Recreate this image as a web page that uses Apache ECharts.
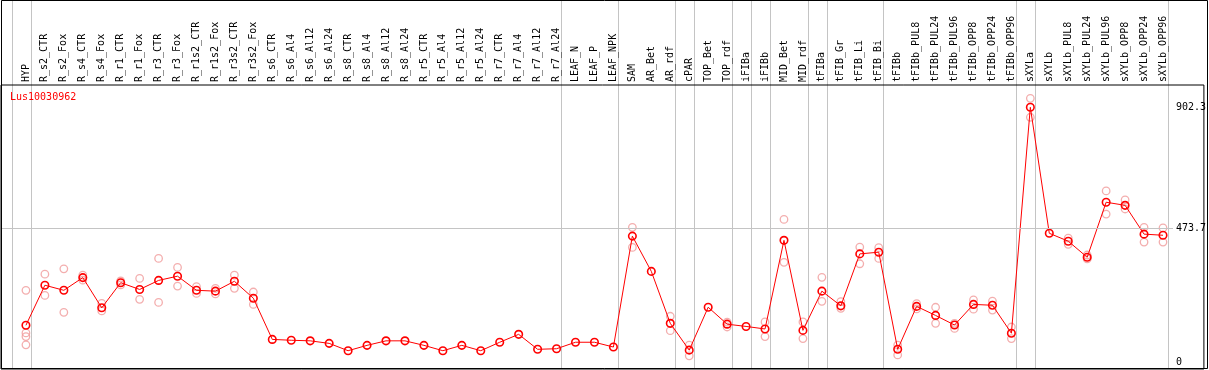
<!DOCTYPE html>
<html>
<head>
<meta charset="utf-8">
<script src="https://cdn.jsdelivr.net/npm/echarts@6/dist/echarts.min.js"></script>
<style>html,body{margin:0;padding:0;background:#fff}#c{width:1209px;height:370px}</style>
</head>
<body>
<div id="c"></div>
<script>
const geneName = 'Lus10030962';
const categories = ['HYP','R_s2_CTR','R_s2_Fox','R_s4_CTR','R_s4_Fox','R_r1_CTR','R_r1_Fox','R_r3_CTR','R_r3_Fox','R_r1s2_CTR','R_r1s2_Fox','R_r3s2_CTR','R_r3s2_Fox','R_s6_CTR','R_s6_Al4','R_s6_Al12','R_s6_Al24','R_s8_CTR','R_s8_Al4','R_s8_Al12','R_s8_Al24','R_r5_CTR','R_r5_Al4','R_r5_Al12','R_r5_Al24','R_r7_CTR','R_r7_Al4','R_r7_Al12','R_r7_Al24','LEAF_N','LEAF_P','LEAF_NPK','SAM','AR_Bet','AR_rdf','cPAR','TOP_Bet','TOP_rdf','iFIBa','iFIBb','MID_Bet','MID_rdf','tFIBa','tFIB_Gr','tFIB_Li','tFIB_Bi','tFIBb','tFIBb_PUL8','tFIBb_PUL24','tFIBb_PUL96','tFIBb_OPP8','tFIBb_OPP24','tFIBb_OPP96','sXYLa','sXYLb','sXYLb_PUL8','sXYLb_PUL24','sXYLb_PUL96','sXYLb_OPP8','sXYLb_OPP24','sXYLb_OPP96'];
const means = [130,272,254,299,192,281,257,289,304,254,251,286,226,80,77,75,66,40,59,75,75,59,40,59,40,70,98,45,47,70,70,53,446,321,137,42,194,134,126,117,431,112,251,199,383,389,45,197,165,131,204,201,102,902.3,456,428,371,566,555,453,449];
const replicates = [[254,103,90,61],[311,236],[330,176],[308,290],[208,181],[287,273],[296,222],[367,211],[335,269],[267,243],[261,241],[308,261],[248,204],[],[],[],[],[],[],[],[],[],[],[],[],[],[],[],[],[],[],[],[477,406],[],[162,111],[60,22],[],[141,124],[],[142,90],[505,353],[142,83],[300,215],[214,190],[407,348],[405,367],[60,25],[207,188],[194,137],[137,119],[220,187],[216,184],[124,83],[934,867],[],[439,417],[379,365],[606,524],[574,542],[477,425],[475,425]];
const groupStarts = ['HYP','R_s2_CTR','LEAF_N','SAM','cPAR','TOP_Bet','iFIBa','iFIBb','MID_Bet','tFIBa','tFIB_Gr','tFIBb','sXYLa','sXYLb'];
const yTickLabels = [0, 473.7, 902.3];
const refLines = [473.7];

const FONT = 'DejaVu Sans Mono';
const sepPos = groupStarts.map(n => categories.indexOf(n) - 0.75);
sepPos.push(categories.length - 1 + 0.25);
const meanData = means.map((v, i) => [i, v]);
const repData = [];
replicates.forEach((arr, i) => arr.forEach(v => repData.push([i, v])));

const chart = echarts.init(document.getElementById('c'), null, {renderer: 'canvas'});
chart.setOption({
  animation: false,
  backgroundColor: '#fff',
  title: {text: geneName, left: 10, top: 92, padding: 0,
    textStyle: {color: '#ff0000', fontSize: 10, fontWeight: 'normal', fontFamily: FONT}},
  grid: {left: 1, right: 2, top: 85, bottom: 1, show: true, borderColor: '#000', borderWidth: 1, backgroundColor: 'transparent'},
  xAxis: {
    type: 'value', position: 'top', min: -1.3158, max: 62.158,
    axisLine: {show: false}, axisTick: {show: false}, splitLine: {show: false},
    axisLabel: {customValues: categories.map((c, i) => i), rotate: 90, margin: 3,
      formatter: v => categories[v] || '', fontFamily: FONT, fontSize: 10, color: '#000'}
  },
  yAxis: {
    type: 'value', position: 'right', offset: -28, min: -24.8, max: 981.3,
    axisLine: {show: false}, axisTick: {show: false}, splitLine: {show: false},
    axisLabel: {customValues: yTickLabels, margin: 0, fontFamily: FONT, fontSize: 10, color: '#000',
      formatter: v => String(v)}
  },
  series: [
    {
      type: 'scatter', z: 2, symbol: 'circle', symbolSize: 7.5, data: repData,
      itemStyle: {color: 'transparent', borderColor: '#f09a9a', borderWidth: 1.3},
      markLine: {silent: true, symbol: 'none', label: {show: false},
        lineStyle: {color: '#c4c4c4', width: 1, type: 'solid'},
        data: refLines.map(v => [{coord: [-1.3158, v]}, {coord: [60.53, v]}])}
    },
    {
      type: 'line', z: 3, symbol: 'circle', symbolSize: 7.5, showSymbol: true, data: meanData,
      lineStyle: {color: '#ff0000', width: 1},
      itemStyle: {color: 'transparent', borderColor: '#ff0000', borderWidth: 1.6}
    }
  ]
});
const sepGraphics = sepPos.map(p => {
  const x = Math.round(chart.convertToPixel({xAxisIndex: 0}, p)) + 0.5;
  return {type: 'line', z: -1, silent: true, shape: {x1: x, y1: 0, x2: x, y2: 369}, style: {stroke: '#c4c4c4', lineWidth: 1}};
});
sepGraphics.push({type: 'rect', z: 100, silent: true, shape: {x: 1.5, y: 0.5, width: 1206, height: 368}, style: {fill: 'none', stroke: '#000', lineWidth: 1}});
chart.setOption({graphic: sepGraphics});
</script>
</body>
</html>
